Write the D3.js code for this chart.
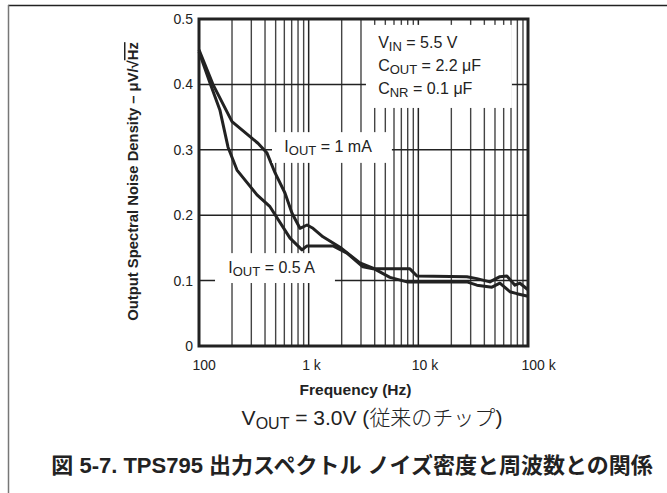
<!DOCTYPE html>
<html>
<head>
<meta charset="utf-8">
<script src="https://cdn.jsdelivr.net/npm/d3@7"></script>
<style>
  body { margin: 0; background: #fff; }
  text { font-family: "Liberation Sans", Arial, sans-serif; fill: #222; }
</style>
</head>
<body>
<div id="vis-container"></div>
<script>
// tick values / labels
var xMajor = [100, 1000, 10000, 100000];
var xLabels = ["100", "1 k", "10 k", "100 k"];
var yTicks = [0, 0.1, 0.2, 0.3, 0.4, 0.5];
var yLabels = ["0", "0.1", "0.2", "0.3", "0.4", "0.5"];

// I_OUT = 1 mA
var freq1mA = [100, 134, 200, 292, 345, 417, 493, 608, 705, 833, 966, 1095, 1350, 1930, 2935, 3860, 5510, 7870, 10000, 15700, 27700, 34200, 46900, 55400, 68400, 79300, 100000];
var noise1mA = [0.453, 0.40, 0.343, 0.32, 0.31, 0.295, 0.265, 0.234, 0.203, 0.180, 0.185, 0.180, 0.167, 0.151, 0.127, 0.119, 0.105, 0.098, 0.098, 0.098, 0.098, 0.093, 0.090, 0.096, 0.083, 0.080, 0.076];

// I_OUT = 0.5 A
var freq05A = [100, 126, 155, 184, 222, 338, 444, 676, 869, 966, 1667, 2235, 3125, 3860, 8380, 9710, 27700, 34200, 44900, 55400, 64200, 76000, 84400, 100000];
var noise05A = [0.45, 0.402, 0.361, 0.304, 0.269, 0.231, 0.213, 0.165, 0.147, 0.153, 0.153, 0.142, 0.121, 0.118, 0.118, 0.107, 0.106, 0.103, 0.098, 0.106, 0.107, 0.093, 0.096, 0.086];

var W = 667, H = 493;
var margin = { top: 19, right: 139, bottom: 147, left: 199 };
var width  = W - margin.left - margin.right;
var height = H - margin.top - margin.bottom;

var svg = d3.select("#vis-container")
  .append("svg")
    .attr("width", W)
    .attr("height", H);

// outer frame (top + left rule)
svg.append("line").attr("x1", 8).attr("x2", W).attr("y1", 5.5).attr("y2", 5.5)
  .attr("stroke", "#222").attr("stroke-width", 1.5);
svg.append("line").attr("x1", 8.5).attr("x2", 8.5).attr("y1", 5).attr("y2", H)
  .attr("stroke", "#777").attr("stroke-width", 1.5);

var g = svg.append("g")
  .attr("transform", "translate(" + margin.left + "," + margin.top + ")");

var xScale = d3.scaleLog().domain([100, 100000]).range([0, width]);
var yScale = d3.scaleLinear().domain([0, 0.5]).range([height, 0]);

// grid: minor verticals (2..9 in each decade)
var minor = [];
xMajor.slice(0, 3).forEach(function(d) {
  for (var m = 2; m <= 9; m++) minor.push(d * m);
});

g.selectAll(".minor").data(minor).enter().append("line")
  .attr("class", "minor")
  .attr("x1", function(d) { return xScale(d); })
  .attr("x2", function(d) { return xScale(d); })
  .attr("y1", 0).attr("y2", height)
  .attr("stroke", "#444").attr("stroke-width", 1.4);

g.selectAll(".major").data(xMajor.slice(1, 3)).enter().append("line")
  .attr("class", "major")
  .attr("x1", function(d) { return xScale(d); })
  .attr("x2", function(d) { return xScale(d); })
  .attr("y1", 0).attr("y2", height)
  .attr("stroke", "#222").attr("stroke-width", 1.5);

g.selectAll(".hgrid").data(yTicks.slice(1, 5)).enter().append("line")
  .attr("class", "hgrid")
  .attr("x1", 0).attr("x2", width)
  .attr("y1", function(d) { return yScale(d); })
  .attr("y2", function(d) { return yScale(d); })
  .attr("stroke", "#222").attr("stroke-width", 1.5);

// curves
var line = d3.line()
  .x(function(d) { return xScale(d[0]); })
  .y(function(d) { return yScale(d[1]); });

[[freq1mA, noise1mA], [freq05A, noise05A]].forEach(function(s) {
  g.append("path")
    .datum(d3.zip(s[0], s[1]))
    .attr("d", line)
    .attr("fill", "none")
    .attr("stroke", "#222")
    .attr("stroke-width", 3)
    .attr("stroke-linejoin", "round");
});

// white boxes behind annotations
var boxes = [
  [3330, 71300, 0.491, 0.364],
  [463, 5740, 0.327, 0.280],
  [140, 1736, 0.142, 0.0963]
];
g.selectAll(".box").data(boxes).enter().append("rect")
  .attr("class", "box")
  .attr("x", function(d) { return xScale(d[0]); })
  .attr("width", function(d) { return xScale(d[1]) - xScale(d[0]); })
  .attr("y", function(d) { return yScale(d[2]); })
  .attr("height", function(d) { return yScale(d[3]) - yScale(d[2]); })
  .attr("fill", "#fff");

// annotation text with subscripts
function label(x, y, main, sub, rest) {
  var t = g.append("text").attr("x", x).attr("y", y).attr("font-size", 16);
  t.append("tspan").text(main);
  t.append("tspan").attr("font-size", 13).attr("dy", 3).text(sub);
  t.append("tspan").attr("dy", -3).text(rest);
}
label(xScale(4300), yScale(0.455), "V", "IN", " = 5.5 V");
label(xScale(4300), yScale(0.42), "C", "OUT", " = 2.2 \u03bcF");
label(xScale(4300), yScale(0.386), "C", "NR", " = 0.1 \u03bcF");
label(xScale(600), yScale(0.296), "I", "OUT", " = 1 mA");
label(xScale(185), yScale(0.112), "I", "OUT", " = 0.5 A");

// plot border
g.append("rect")
  .attr("x", 0).attr("y", 0).attr("width", width).attr("height", height)
  .attr("fill", "none").attr("stroke", "#222").attr("stroke-width", 3);

// axes (labels only)
var xAxis = d3.axisBottom(xScale)
  .tickValues(xMajor)
  .tickSize(0)
  .tickFormat(function(d, i) { return xLabels[i]; });
var gx = g.append("g")
  .attr("transform", "translate(0," + height + ")")
  .call(xAxis);
gx.select(".domain").remove();
gx.selectAll("text")
  .attr("font-size", 14).attr("fill", "#222")
  .attr("text-anchor", "start")
  .attr("dx", -7).attr("y", 14)
  .style("font-family", "'Liberation Sans', Arial, sans-serif");

var yAxis = d3.axisLeft(yScale)
  .tickValues(yTicks)
  .tickSize(0)
  .tickFormat(function(d, i) { return yLabels[i]; });
var gy = g.append("g").call(yAxis);
gy.select(".domain").remove();
gy.selectAll("text")
  .attr("font-size", 14).attr("fill", "#222")
  .attr("x", -6)
  .style("font-family", "'Liberation Sans', Arial, sans-serif");

// axis titles
g.append("text")
  .attr("x", width / 2 - 8).attr("y", height + 49)
  .attr("text-anchor", "middle")
  .attr("font-size", 15.5).attr("font-weight", "bold")
  .text("Frequency (Hz)");

var yt = g.append("text")
  .attr("transform", "translate(" + (138 - margin.left) + "," + (height / 2 - 1) + ") rotate(-90)")
  .attr("text-anchor", "middle")
  .attr("font-size", 14.8).attr("font-weight", "bold");
yt.append("tspan").text("Output Spectral Noise Density \u2013 \u03bcV/\u221a");
yt.append("tspan").style("text-decoration", "overline").text("Hz");

// caption
var cap = svg.append("text")
  .attr("x", 372).attr("y", 425)
  .attr("text-anchor", "middle")
  .attr("font-size", 21);
cap.append("tspan").text("V");
cap.append("tspan").attr("font-size", 16).attr("dy", 4).text("OUT");
cap.append("tspan").attr("dy", -4).text(" = 3.0V (");
cap.append("tspan").style("font-family", "'Noto Sans CJK JP'").attr("font-weight", 300).text("従来のチップ");
cap.append("tspan").text(")");

svg.append("text")
  .attr("x", 352).attr("y", 473)
  .attr("text-anchor", "middle")
  .attr("font-size", 22).attr("font-weight", "bold")
  .style("font-family", "'Liberation Sans', 'Noto Sans CJK JP', sans-serif")
  .text("図 5-7. TPS795 出力スペクトル ノイズ密度と周波数との関係");
</script>
</body>
</html>
